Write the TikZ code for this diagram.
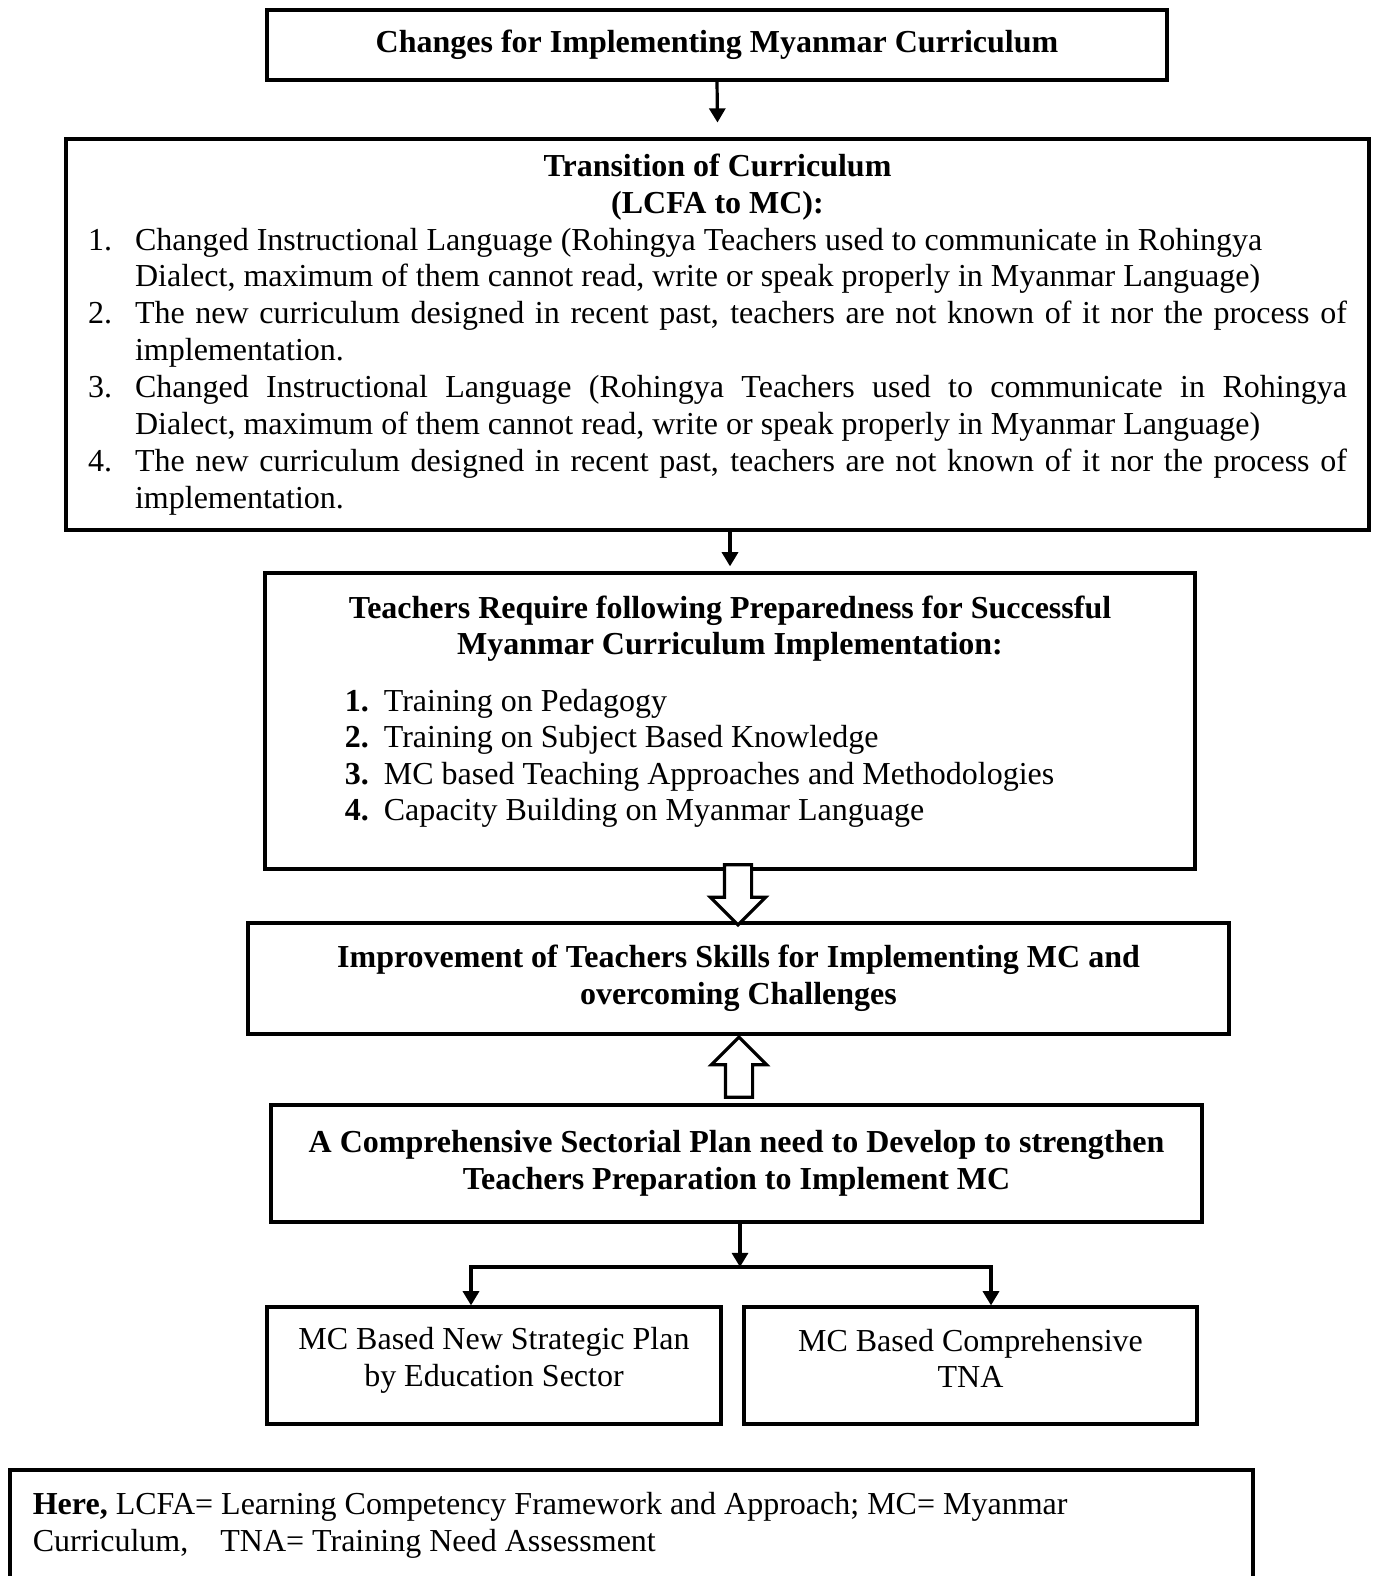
\documentclass[tikz,border=0pt]{standalone}
\usepackage{fontspec}
\setmainfont{Liberation Serif}
\usetikzlibrary{arrows.meta,shapes.arrows}

\newcommand{\itm}[2]{{\leftskip=0pt\rightskip=0pt\parfillskip=0pt plus 1fil
  \hangindent=17.6pt\hangafter=1\noindent\makebox[17.6pt][l]{#1}#2\par}}
\newcommand{\padbot}[1]{\par\vspace{#1}\hrule height 0pt}

\tikzset{
  box/.style={draw, line width=1.2pt, align=flush center, font=\fontsize{12}{13.7}\selectfont,
    execute at begin node={\spaceskip=0pt\xspaceskip=0pt}},
  arr/.style={line width=1.2pt, -{Triangle[length=5.3pt,width=6pt]}},
  fatarrow/.style={single arrow, draw, fill=white, line width=1.2pt, inner xsep=0pt,
    inner ysep=4.5pt, single arrow head extend=5.25pt, minimum height=22.5pt}
}

\begin{document}
\begin{tikzpicture}[x=0.375pt, y=-0.375pt]
\useasboundingbox (0,0) rectangle (1374,1576);

% Boxes
\node[box, minimum width=337.5pt, minimum height=26.25pt, text width=320pt] (b1) at (717,45)
  {\textbf{Changes for Implementing Myanmar Curriculum}};

\node[box, font=\fontsize{12}{13.85}\selectfont, minimum width=488.6pt, minimum height=146.6pt,
  text width=472pt] (b2) at (717.5,334.5) {%
  {\centering\textbf{Transition of Curriculum}\\\textbf{(LCFA to MC):}\par}
  \itm{1.}{Changed Instructional Language (Rohingya Teachers used to communicate in Rohingya\newline Dialect, maximum of them cannot read, write or speak properly in Myanmar Language)}
  \itm{2.}{The new curriculum designed in recent past, teachers are not known of it nor the process of\linebreak implementation.}
  \itm{3.}{Changed Instructional Language (Rohingya Teachers used to communicate in Rohingya\linebreak Dialect, maximum of them cannot read, write or speak properly in Myanmar Language)}
  \itm{4.}{The new curriculum designed in recent past, teachers are not known of it nor the process of\linebreak implementation.}};

\node[box, align=flush left, minimum width=348.75pt, minimum height=111pt, text width=330pt] (b3) at (730,721) {%
  {\centering\textbf{Teachers Require following Preparedness for Successful}\\\textbf{Myanmar Curriculum Implementation:}\par}
  \vspace{7.5pt}
  \hspace*{20.6pt}\makebox[14.6pt][l]{\textbf{1.}}Training on Pedagogy\par
  \hspace*{20.6pt}\makebox[14.6pt][l]{\textbf{2.}}Training on Subject Based Knowledge\par
  \hspace*{20.6pt}\makebox[14.6pt][l]{\textbf{3.}}MC based Teaching Approaches and Methodologies\par
  \hspace*{20.6pt}\makebox[14.6pt][l]{\textbf{4.}}Capacity Building on Myanmar Language
  \padbot{7pt}};

\node[box, minimum width=367.9pt, minimum height=41.6pt, text width=350pt] (b4) at (738.5,978.5)
  {\textbf{Improvement of Teachers Skills for Implementing MC and}\\\textbf{overcoming Challenges}};

\node[box, minimum width=349.1pt, minimum height=43.9pt, text width=340pt] (b5) at (736.5,1163.5)
  {\textbf{A Comprehensive Sectorial Plan need to Develop to strengthen}\\\textbf{Teachers Preparation to Implement MC}};

\node[box, minimum width=170.25pt, minimum height=43.9pt, text width=160pt] (b6) at (494,1365.5)
  {MC Based New Strategic Plan\\by Education Sector\padbot{4pt}};

\node[box, minimum width=169.9pt, minimum height=43.9pt, text width=160pt] (b7) at (970.5,1365.5)
  {MC Based Comprehensive\\TNA\padbot{5.5pt}};

\node[box, align=flush left, minimum width=466.1pt, minimum height=67.5pt, text width=449pt] (b8) at (631.5,1560)
  {\textbf{Here,} LCFA= Learning Competency Framework and Approach; MC= Myanmar\\Curriculum,\hspace{9pt} TNA= Training Need Assessment\padbot{26pt}};

% Arrows
\draw[arr] (b1.south) -- ([yshift=5.6pt]b2.north);
\draw[arr] (b3.north |- b2.south) -- ([yshift=1.9pt]b3.north);

\node[fatarrow, rotate=-90] (down) at (738,888) {};
\node[fatarrow, rotate=90] (up) at (739,1074) {};

\coordinate (fork) at (740,1267);
\coordinate (fl) at (471,1267);
\coordinate (fr) at (991,1267);
\draw[arr] (b5.south -| fork) -- (fork);
\draw[line width=1.2pt, {Triangle[length=5.3pt,width=6pt]}-{Triangle[length=5.3pt,width=6pt]}]
  (fl |- b6.north) -- (fl) -- (fr) -- (fr |- b7.north);

\end{tikzpicture}
\end{document}
